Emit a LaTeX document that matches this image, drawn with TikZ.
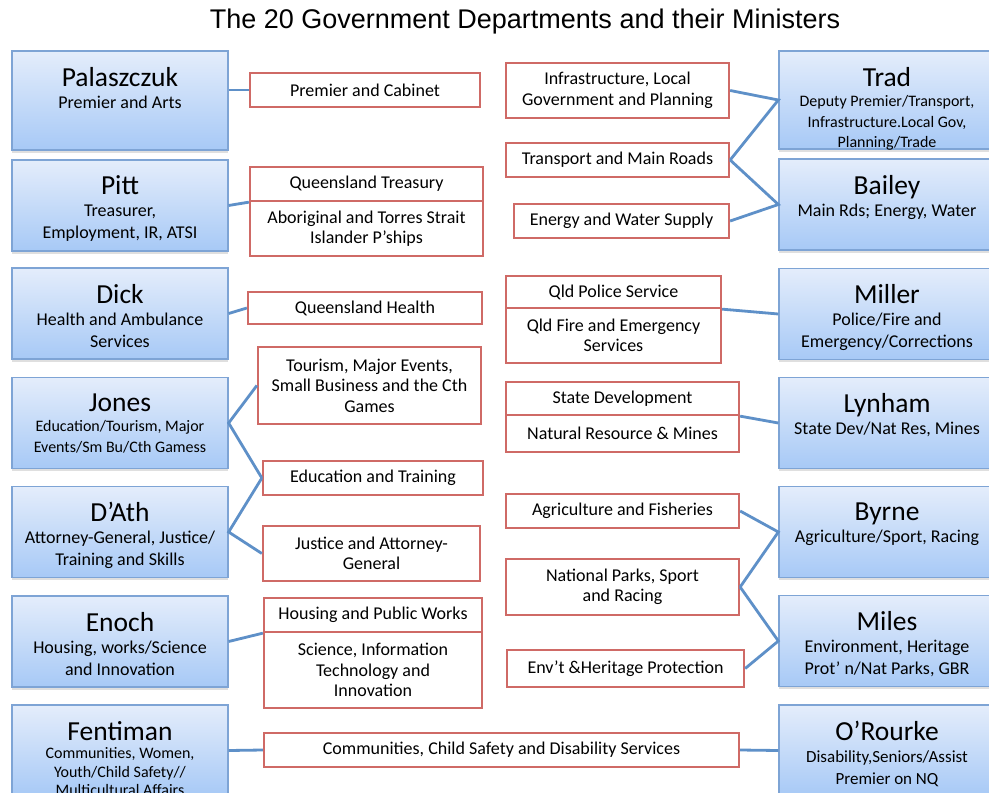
\documentclass[tikz,border=0pt]{standalone}
\usepackage{fontspec}
\setmainfont{Carlito}
\newfontfamily\headfont{Liberation Sans}
\usetikzlibrary{shadows}

\definecolor{boxtop}{HTML}{E4EDFB}
\definecolor{boxbot}{HTML}{A7C9F6}
\definecolor{boxrule}{HTML}{7EA4D5}
\definecolor{deptred}{HTML}{CF6A66}
\definecolor{linkblue}{HTML}{5E90C8}

\begin{document}
\begin{tikzpicture}[x=1pt, y=-1pt,
  minister/.style={rectangle, draw=boxrule, line width=1.3pt, top color=boxtop, bottom color=boxbot, minimum width=216pt, minimum height=91pt, inner sep=0pt, drop shadow={opacity=0.25, shadow xshift=0pt, shadow yshift=-2.5pt}},
  who/.style={anchor=north, align=center, inner sep=0pt, yshift=-16.5pt, font=\fontsize{18}{22}\selectfont},
  tight/.style={font=\fontsize{16}{20.5}\selectfont},
  dept/.style={rectangle, draw=deptred, line width=2.3pt, fill=white, align=center, inner sep=0pt, font=\fontsize{18}{20.5}\selectfont},
  link/.style={draw=linkblue, line width=2.8pt}]
\clip (0,0) rectangle (989,793);
\fill[white] (0,0) rectangle (989,793);
\node[font=\headfont\fontsize{27}{30}\selectfont] (title) at (525,22) {The 20 Government Departments and their Ministers};

\node[minister, minimum height=99pt] (pal) at (120,100.5) {};
\node[who] (pal-t) at (pal.north) {{\fontsize{27.5}{30}\selectfont Palaszczuk}\\Premier and Arts};
\node[minister] (pitt) at (120,205.5) {};
\node[who] (pitt-t) at (pitt.north) {{\fontsize{27.5}{30}\selectfont Pitt}\\Treasurer,\\Employment, IR, ATSI};
\node[minister] (dick) at (120,313.5) {};
\node[who] (dick-t) at (dick.north) {{\fontsize{27.5}{30}\selectfont Dick}\\Health and Ambulance\\Services};
\node[minister] (jones) at (120,423) {};
\node[who, tight] (jones-t) at (jones.north) {{\fontsize{27.5}{30}\selectfont Jones}\\Education/Tourism, Major\\Events/Sm Bu/Cth Gamess};
\node[minister] (dath) at (120,532) {};
\node[who] (dath-t) at (dath.north) {{\fontsize{27.5}{30}\selectfont D’Ath}\\Attorney-General, Justice/\\Training and Skills};
\node[minister] (enoch) at (120,641.5) {};
\node[who] (enoch-t) at (enoch.north) {{\fontsize{27.5}{30}\selectfont Enoch}\\Housing, works/Science\\and Innovation};
\node[minister] (fent) at (120,750.5) {};
\node[who, font=\fontsize{16}{18.5}\selectfont] (fent-t) at (fent.north) {{\fontsize{27.5}{30}\selectfont Fentiman}\\Communities, Women,\\Youth/Child Safety//\\Multicultural Affairs};

\node[minister, minimum height=98pt] (trad) at (887,100) {};
\node[who, tight] (trad-t) at (trad.north) {{\fontsize{27.5}{30}\selectfont Trad}\\Deputy Premier/Transport,\\Infrastructure.Local Gov,\\Planning/Trade};
\node[minister] (bailey) at (887,204.5) {};
\node[who] (bailey-t) at (bailey.north) {{\fontsize{27.5}{30}\selectfont Bailey}\\Main Rds; Energy, Water};
\node[minister] (miller) at (887,314) {};
\node[who] (miller-t) at (miller.north) {{\fontsize{27.5}{30}\selectfont Miller}\\Police/Fire and\\Emergency/Corrections};
\node[minister] (lynham) at (887,423) {};
\node[who] (lynham-t) at (lynham.north) {{\fontsize{27.5}{30}\selectfont Lynham}\\State Dev/Nat Res, Mines};
\node[minister] (byrne) at (887,532) {};
\node[who] (byrne-t) at (byrne.north) {{\fontsize{27.5}{30}\selectfont Byrne}\\Agriculture/Sport, Racing};
\node[minister] (miles) at (887,641) {};
\node[who] (miles-t) at (miles.north) {{\fontsize{27.5}{30}\selectfont Miles}\\Environment, Heritage\\Prot’ n/Nat Parks, GBR};
\node[minister] (orourke) at (887,750.5) {};
\node[who, font=\fontsize{17}{22}\selectfont] (orourke-t) at (orourke.north) {{\fontsize{27.5}{30}\selectfont O’Rourke}\\Disability,Seniors/Assist\\Premier on NQ};

\node[dept, minimum width=230pt, minimum height=34pt] (pc) at (365,90) {Premier and Cabinet};
\node[dept, minimum width=233pt, minimum height=34pt] (treas) at (366.5,184) {Queensland Treasury};
\node[dept, minimum width=233pt, minimum height=55pt] (atsi) at (366.5,228.5) {Aboriginal and Torres Strait\\Islander P’ships};
\node[dept, minimum width=234pt, minimum height=32pt] (qh) at (365,308) {Queensland Health};
\node[dept, minimum width=223pt, minimum height=77pt] (tour) at (369.5,385.5) {Tourism, Major Events,\\Small Business and the Cth\\Games};
\node[dept, minimum width=220pt, minimum height=34pt] (edu) at (373,478) {Education and Training};
\node[dept, minimum width=217pt, minimum height=55pt] (just) at (371.5,553.5) {Justice and Attorney-\\General};
\node[dept, minimum width=218pt, minimum height=34pt] (house) at (373,615) {Housing and Public Works};
\node[dept, minimum width=218pt, minimum height=76pt] (sci) at (373,670) {Science, Information\\Technology and\\Innovation};
\node[dept, minimum width=475pt, minimum height=34pt] (comm) at (501.5,750) {Communities, Child Safety and Disability Services};

\node[dept, minimum width=223pt, minimum height=55pt] (infra) at (617.5,90.5) {Infrastructure, Local\\Government and Planning};
\node[dept, minimum width=223pt, minimum height=34pt] (tmr) at (617.5,160) {Transport and Main Roads};
\node[dept, minimum width=215pt, minimum height=34pt] (energy) at (621.5,221) {Energy and Water Supply};
\node[dept, minimum width=215pt, minimum height=32pt] (police) at (613.5,292) {Qld Police Service};
\node[dept, minimum width=215pt, minimum height=55pt] (fire) at (613.5,335.5) {Qld Fire and Emergency\\Services};
\node[dept, minimum width=233pt, minimum height=33pt] (sdev) at (622.5,398.5) {State Development};
\node[dept, minimum width=233pt, minimum height=37pt] (natres) at (622.5,433.5) {Natural Resource \& Mines};
\node[dept, minimum width=233pt, minimum height=34pt] (agri) at (622.5,511) {Agriculture and Fisheries};
\node[dept, minimum width=233pt, minimum height=56pt] (parks) at (622.5,587) {National Parks, Sport\\and Racing};
\node[dept, minimum width=237pt, minimum height=37pt] (env) at (625.5,668.5) {Env’t \&Heritage Protection};

\draw[link] (pc.west -| pal.east) -- (pc.west);
\draw[link] (pitt.east) -- (treas.south west);
\draw[link] (dick.east) -- (qh.west);
\draw[link] (tour.west) -- (jones.east) -- (edu.west);
\draw[link] (edu.west) -- (dath.east) -- (just.west);
\draw[link] (enoch.east) -- (house.south west);
\draw[link] (fent.east) -- (comm.west);
\draw[link] (infra.east) -- (trad.west) -- (tmr.east);
\draw[link] (tmr.east) -- (bailey.west) -- (energy.east);
\draw[link] (miller.west) -- (police.south east);
\draw[link] (lynham.west) -- (sdev.south east);
\draw[link] (agri.east) -- (byrne.west) -- (parks.east);
\draw[link] (parks.east) -- (miles.west) -- (env.east);
\draw[link] (orourke.west) -- (comm.east);
\end{tikzpicture}
\end{document}
